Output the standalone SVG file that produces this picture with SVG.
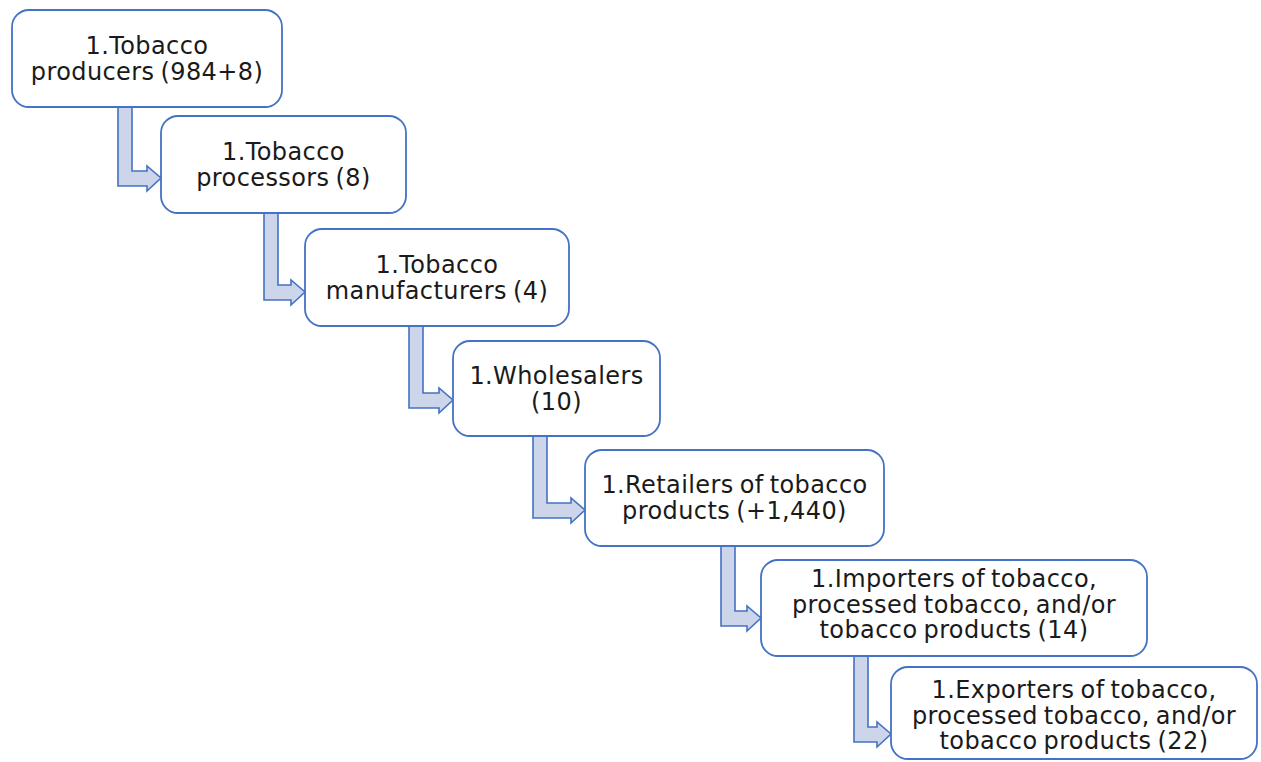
<svg xmlns="http://www.w3.org/2000/svg" width="1261" height="762" viewBox="0 0 1261 762">
<style>
.box{fill:#ffffff;stroke:#4472C4;stroke-width:1.8}
.arr{fill:#CDD5EA;stroke:#4472C4;stroke-width:1.6;stroke-linejoin:miter}
.t{font-family:"DejaVu Sans","Verdana",sans-serif;font-size:24px;letter-spacing:0.4px;fill:#1a1a1a;text-anchor:middle;word-spacing:-2px}
</style>
<rect width="1261" height="762" fill="#ffffff"/>
<g id="connectors">
<polygon class="arr" points="118,107 132,107 132,171 147,171 147,166 161,178 147,191 147,186 118,186"/>
<polygon class="arr" points="264,213 278,213 278,285 291,285 291,280 305,292 291,305 291,300 264,300"/>
<polygon class="arr" points="409,326 423,326 423,393 439,393 439,388 453,400 439,413 439,408 409,408"/>
<polygon class="arr" points="533,436 547,436 547,503 571,503 571,498 585,510 571,523 571,518 533,518"/>
<polygon class="arr" points="721,546 735,546 735,611 747,611 747,606 761,618 747,631 747,626 721,626"/>
<polygon class="arr" points="854,656 868,656 868,727 877,727 877,722 891,734 877,747 877,742 854,742"/>
</g>
<g id="node1">
<rect class="box" x="12" y="10" width="270" height="97" rx="17"/>
<text class="t" x="147" y="54">1.Tobacco</text>
<text class="t" x="147" y="80">producers (984+8)</text>
</g>
<g id="node2">
<rect class="box" x="161" y="116" width="245" height="97" rx="17"/>
<text class="t" x="283.5" y="160">1.Tobacco</text>
<text class="t" x="283.5" y="186">processors (8)</text>
</g>
<g id="node3">
<rect class="box" x="305" y="229" width="264" height="97" rx="17"/>
<text class="t" x="437" y="273">1.Tobacco</text>
<text class="t" x="437" y="299">manufacturers (4)</text>
</g>
<g id="node4">
<rect class="box" x="453" y="341" width="207" height="95" rx="17"/>
<text class="t" x="556.5" y="384">1.Wholesalers</text>
<text class="t" x="556.5" y="410">(10)</text>
</g>
<g id="node5">
<rect class="box" x="585" y="450" width="299" height="96" rx="17"/>
<text class="t" x="734.5" y="493">1.Retailers of tobacco</text>
<text class="t" x="734.5" y="519">products (+1,440)</text>
</g>
<g id="node6">
<rect class="box" x="761" y="560" width="386" height="96" rx="17"/>
<text class="t" x="954" y="587">1.Importers of tobacco,</text>
<text class="t" x="954" y="612.5">processed tobacco, and/or</text>
<text class="t" x="954" y="638">tobacco products (14)</text>
</g>
<g id="node7">
<rect class="box" x="891" y="667" width="366" height="92" rx="17"/>
<text class="t" x="1074" y="698">1.Exporters of tobacco,</text>
<text class="t" x="1074" y="723.5">processed tobacco, and/or</text>
<text class="t" x="1074" y="749">tobacco products (22)</text>
</g>
</svg>
